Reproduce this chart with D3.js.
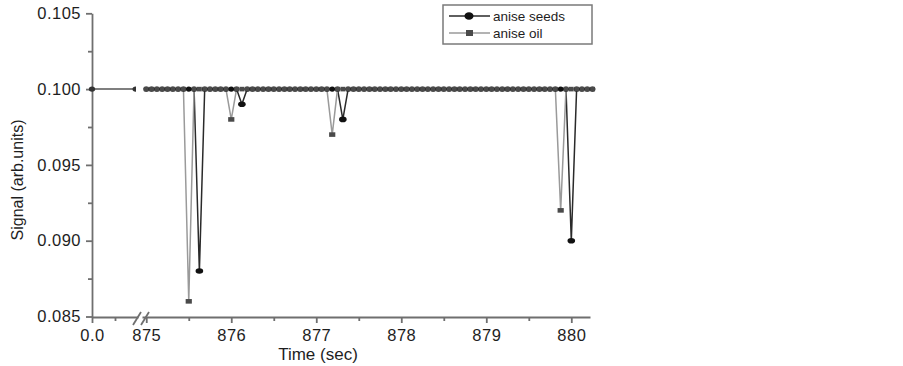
<!DOCTYPE html>
<html>
<head>
<meta charset="utf-8">
<script src="https://cdn.jsdelivr.net/npm/d3@7"></script>
<style>
  body { margin: 0; background: #fff; }
  svg { display: block; font-family: "Liberation Sans", Arial, sans-serif; }
</style>
</head>
<body>
<div id="chart"></div>
<script>
// sampling grid of the recorded signal (sec)
const sampleStart = 875,
    sampleStep = 0.0625,
    sampleCount = 84;
const baseline = 0.100;

// dips
const seedsDipTimes = [875.625, 876.125, 877.3125, 880.0];
const seedsDipValues = [0.088, 0.099, 0.098, 0.090];
const oilDipTimes = [875.5, 876.0, 877.1875, 879.875];
const oilDipValues = [0.086, 0.098, 0.097, 0.092];

// the short piece before the axis break
const leftTimes = [0.0, 0.95];

const yTicks = [0.085, 0.090, 0.095, 0.100, 0.105];
const yMinor = [0.0875, 0.0925, 0.0975, 0.1025];
const xTicks = [875, 876, 877, 878, 879, 880];
const xMinor = [875.5, 876.5, 877.5, 878.5, 879.5];

const width = 903, height = 366;
const axisColor = "#6f6f6f";

const times = d3.range(sampleCount + 1).map(i => sampleStart + i * sampleStep);
const series = (dipT, dipV) => times.map(t => {
    const k = dipT.findIndex(d => Math.abs(d - t) < 1e-6);
    return {t, v: k < 0 ? baseline : dipV[k]};
});
const seeds = series(seedsDipTimes, seedsDipValues);
const oil = series(oilDipTimes, oilDipValues);
const leftPts = leftTimes.map(t => ({t, v: baseline}));

const y = d3.scaleLinear().domain([0.085, 0.105]).range([316.5, 13.3]);
const xL = d3.scaleLinear().domain([0, 1]).range([92, 138]);
const xR = d3.scaleLinear().domain([874.95, 880.22]).range([142, 590]);

const svg = d3.select("#chart").append("svg")
    .attr("width", width)
    .attr("height", height);

svg.append("defs").append("clipPath").attr("id", "clipL")
    .append("rect").attr("x", 80).attr("y", 0).attr("width", 56).attr("height", 330);

// y axis
svg.append("g")
    .attr("transform", "translate(92,0)")
    .call(d3.axisLeft(y).tickValues(yTicks).tickFormat(d3.format(".3f")).tickSize(6).tickSizeOuter(0).tickPadding(5));
svg.append("g")
    .attr("transform", "translate(92,0)")
    .call(d3.axisLeft(y).tickValues(yMinor).tickFormat("").tickSize(4).tickSizeOuter(0))
    .call(g => g.select(".domain").remove());

// x axis, two pieces
svg.append("g")
    .attr("transform", "translate(0,317)")
    .call(d3.axisBottom(xL).tickValues([0]).tickFormat(d3.format(".1f")).tickSize(6).tickSizeOuter(0).tickPadding(6));
svg.append("g")
    .attr("transform", "translate(0,317)")
    .call(d3.axisBottom(xL).tickValues([0.5]).tickFormat("").tickSize(4).tickSizeOuter(0))
    .call(g => g.select(".domain").remove());
svg.append("g")
    .attr("transform", "translate(0,317)")
    .call(d3.axisBottom(xR).tickValues(xTicks).tickFormat(d3.format("d")).tickSize(6).tickSizeOuter(0).tickPadding(6));
svg.append("g")
    .attr("transform", "translate(0,317)")
    .call(d3.axisBottom(xR).tickValues(xMinor).tickFormat("").tickSize(4).tickSizeOuter(0))
    .call(g => g.select(".domain").remove());

svg.selectAll(".domain, .tick line")
    .attr("stroke", axisColor)
    .attr("stroke-width", 1.8);
svg.selectAll(".tick text")
    .attr("fill", "#1e1e1e")
    .attr("font-size", 16.5)
    .attr("letter-spacing", 0.5)
    .attr("font-family", "'Liberation Sans', Arial, sans-serif");

// break marks
svg.append("g")
    .attr("stroke", axisColor)
    .attr("stroke-width", 1.8)
    .selectAll("line")
    .data([133, 141])
    .join("line")
    .attr("x1", d => d).attr("y1", 325)
    .attr("x2", d => d + 8).attr("y2", 312);

// axis titles
svg.append("text")
    .attr("x", 318).attr("y", 360)
    .attr("text-anchor", "middle")
    .attr("font-size", 17)
    .attr("fill", "#1e1e1e")
    .text("Time (sec)");
svg.append("text")
    .attr("transform", "translate(23,180) rotate(-90)")
    .attr("text-anchor", "middle")
    .attr("font-size", 16)
    .attr("fill", "#1e1e1e")
    .text("Signal (arb.units)");

// left piece of data
const lineL = d3.line().x(d => xL(d.t)).y(d => y(d.v));
const gL = svg.append("g").attr("clip-path", "url(#clipL)");
gL.append("path").datum(leftPts)
    .attr("fill", "none").attr("stroke", "#555").attr("stroke-width", 1.5)
    .attr("d", lineL);
gL.selectAll("ellipse").data(leftPts).join("ellipse")
    .attr("cx", d => xL(d.t)).attr("cy", d => y(d.v))
    .attr("rx", 3.2).attr("ry", 2.7)
    .attr("fill", "#333");

// main data
const line = d3.line().x(d => xR(d.t)).y(d => y(d.v));

svg.append("path").datum(seeds)
    .attr("fill", "none").attr("stroke", "#2a2a2a").attr("stroke-width", 1.5)
    .attr("d", line);
svg.append("path").datum(oil)
    .attr("fill", "none").attr("stroke", "#9a9a9a").attr("stroke-width", 1.5)
    .attr("d", line);

svg.append("g").selectAll("ellipse").data(seeds).join("ellipse")
    .attr("cx", d => xR(d.t)).attr("cy", d => y(d.v))
    .attr("rx", d => d.v < baseline ? 3.8 : 2.9)
    .attr("ry", d => d.v < baseline ? 2.8 : 2.6)
    .attr("fill", "#111");
svg.append("g").selectAll("rect").data(oil).join("rect")
    .attr("x", d => xR(d.t) - (d.v < baseline ? 3.1 : 2.4))
    .attr("y", d => y(d.v) - 2.3)
    .attr("width", d => d.v < baseline ? 6.2 : 4.8)
    .attr("height", 4.6)
    .attr("fill", "#4a4a4a");

// legend
const legend = svg.append("g");
legend.append("rect")
    .attr("x", 443).attr("y", 5).attr("width", 149).attr("height", 39)
    .attr("fill", "#fff").attr("stroke", "#7a7a7a").attr("stroke-width", 1.5);
const legendItems = [
    {name: "anise seeds", stroke: "#2a2a2a", fill: "#111", shape: "circle", y: 16},
    {name: "anise oil", stroke: "#9a9a9a", fill: "#4a4a4a", shape: "square", y: 33}
];
const li = legend.selectAll("g.item").data(legendItems).join("g").attr("class", "item");
li.append("line")
    .attr("x1", 449).attr("x2", 490)
    .attr("y1", d => d.y).attr("y2", d => d.y)
    .attr("stroke", d => d.stroke).attr("stroke-width", 1.5);
li.filter(d => d.shape === "circle").append("ellipse")
    .attr("cx", 469).attr("cy", d => d.y).attr("rx", 4.5).attr("ry", 3.8)
    .attr("fill", d => d.fill);
li.filter(d => d.shape === "square").append("rect")
    .attr("x", 466).attr("y", d => d.y - 3).attr("width", 7).attr("height", 6)
    .attr("fill", d => d.fill);
li.append("text")
    .attr("x", 493).attr("y", d => d.y + 5)
    .attr("font-size", 13.5)
    .attr("fill", "#1e1e1e")
    .text(d => d.name);
</script>
</body>
</html>
